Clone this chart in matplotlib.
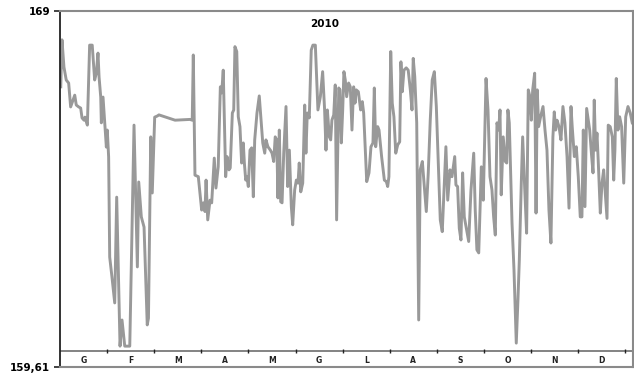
import matplotlib
matplotlib.use("Agg")
import matplotlib.pyplot as plt
import numpy as np

# giorno (asse a 31 giorni per mese) e livello
days = [0.5, 1.3, 2.6, 4.1, 5.7, 7.0, 8.6, 9.7, 10.7, 12.3, 13.6, 14.5, 15.8, 16.4, 18.0,
        19.5, 21.2, 22.8, 23.9, 25.0, 25.7, 26.8, 27.2, 28.3, 30.5, 31.1, 32.0, 32.7, 34.2,
        36.0, 37.3, 39.5, 40.8, 42.6, 45.9, 48.7, 50.9, 51.8, 53.5, 55.3, 57.4, 58.2, 59.7,
        60.7, 62.3, 64.0, 65.1, 75.7, 85.5, 87.0, 87.7, 88.8, 91.0, 93.2, 94.3, 95.4, 96.1,
        97.2, 98.7, 99.8, 101.5, 102.6, 104.1, 105.5, 106.4, 107.4, 109.0, 109.9, 111.2,
        112.0, 113.4, 114.3, 115.1, 116.3, 117.3, 118.4, 119.5, 120.6, 121.3, 122.2, 123.0,
        123.9, 125.0, 126.1, 127.2, 128.1, 129.6, 131.1, 132.4, 133.4, 134.7, 135.5, 136.8,
        138.4, 139.5, 140.6, 141.6, 142.6, 143.4, 144.3, 145.2, 146.1, 147.2, 148.7, 149.8,
        150.9, 152.2, 153.1, 154.4, 155.5, 156.6, 157.4, 158.4, 159.7, 161.0, 161.8, 162.7,
        164.0, 165.3, 166.4, 168.0, 169.7, 171.3, 172.8, 174.1, 175.0, 175.9, 177.2, 178.1,
        178.9, 180.1, 181.1, 182.0, 183.4, 184.2, 185.1, 186.0, 186.8, 187.7, 188.6, 189.9,
        191.0, 192.1, 193.2, 194.1, 194.9, 196.3, 197.8, 198.9, 199.8, 201.1, 201.8, 203.3,
        204.6, 205.9, 206.8, 207.7, 209.0, 209.9, 211.6, 213.4, 214.7, 215.6, 216.4, 217.6,
        218.6, 219.7, 220.9, 222.2, 223.5, 224.3, 225.2, 226.3, 227.8, 229.1, 230.5, 231.6,
        232.4, 233.4, 234.7, 236.0, 237.0, 238.4, 239.7, 241.0, 242.3, 243.6, 244.9, 246.3,
        247.6, 248.9, 250.2, 251.5, 252.8, 253.9, 255.1, 256.6, 257.9, 259.7, 260.5, 261.6,
        262.7, 263.8, 264.9, 266.0, 267.6, 268.9, 270.4, 272.2, 273.2, 274.3, 275.5, 277.2,
        278.5, 280.3, 281.6, 282.9, 284.2, 285.3, 286.4, 287.5, 288.6, 289.5, 290.3, 291.6,
        293.0, 293.9, 294.7, 295.6, 297.4, 298.7, 300.2, 301.3, 302.2, 303.5, 304.4, 305.7,
        307.0, 308.1, 309.2, 310.1, 311.0, 312.3, 313.2, 314.0, 314.9, 316.2, 317.8, 319.1,
        320.4, 321.7, 323.0, 324.3, 325.2, 326.1, 327.0, 328.3, 329.6, 330.9, 332.2, 333.6,
        334.9, 336.2, 337.0, 338.4, 339.7, 341.0, 342.3, 343.4, 344.3, 345.4, 346.5, 347.6,
        348.5, 349.8, 350.7, 351.5, 352.4, 353.3, 354.1, 355.5, 356.6, 357.7, 358.6, 359.9,
        360.7, 362.0, 363.4, 364.3, 365.1, 366.0, 367.1, 368.2, 369.5, 370.9, 372.2, 373.7,
        375.2, 376.5]
levels = [167.00, 168.24, 167.52, 167.18, 167.10, 166.47, 166.65, 166.78, 166.52, 166.47,
          166.44, 166.18, 166.12, 166.20, 165.99, 168.10, 168.10, 167.18, 167.36, 167.89,
          167.26, 166.73, 166.05, 166.73, 165.41, 165.86, 165.15, 162.51, 161.98, 161.30,
          164.09, 160.16, 160.85, 160.16, 160.16, 165.99, 162.25, 164.49, 163.57, 163.30,
          160.72, 160.90, 165.68, 164.20, 166.20, 166.23, 166.26, 166.12, 166.14, 166.12,
          167.84, 164.67, 164.63, 163.75, 163.94, 163.71, 164.54, 163.49, 164.01, 163.94,
          165.12, 164.33, 164.89, 167.00, 166.84, 167.44, 164.63, 165.16, 164.81, 164.86,
          166.31, 166.39, 168.06, 167.93, 166.21, 165.95, 164.99, 165.52, 164.99, 164.54,
          164.63, 164.37, 165.33, 165.39, 164.10, 165.60, 166.31, 166.76, 166.05, 165.52,
          165.25, 165.60, 165.42, 165.33, 165.25, 165.03, 165.68, 165.60, 164.07, 165.86,
          163.97, 163.94, 165.25, 166.48, 164.37, 165.33, 163.84, 163.36, 164.28, 164.54,
          164.46, 164.99, 164.23, 164.46, 166.52, 165.25, 166.31, 166.18, 167.97, 168.10,
          168.10, 166.39, 166.74, 167.40, 166.39, 165.33, 166.39, 165.68, 165.60, 166.12,
          166.26, 167.05, 163.49, 166.97, 166.92, 165.52, 166.39, 167.40, 167.18, 166.74,
          167.10, 167.00, 165.86, 167.00, 166.57, 166.92, 166.87, 166.39, 166.61, 166.31,
          165.16, 164.50, 164.73, 165.42, 165.52, 166.97, 165.42, 165.95, 165.86, 165.16,
          164.54, 164.50, 164.37, 164.63, 167.93, 166.57, 166.21, 165.25, 165.47, 165.55,
          167.66, 166.87, 167.44, 167.50, 167.44, 166.92, 166.39, 167.75, 167.27, 166.05,
          160.85, 164.81, 165.03, 164.37, 163.71, 164.73, 166.12, 167.18, 167.40, 166.48,
          164.99, 163.49, 163.18, 164.37, 165.42, 164.01, 164.81, 164.63, 165.16, 164.41,
          164.37, 163.27, 162.96, 164.73, 163.57, 163.22, 162.92, 164.28, 165.25, 163.75,
          162.70, 162.62, 164.89, 164.01, 167.22, 166.39, 164.63, 164.28, 163.57, 163.09,
          166.05, 165.86, 166.39, 164.15, 165.68, 165.03, 164.99, 166.39, 166.05, 163.41,
          162.17, 160.24, 161.38, 162.43, 164.46, 165.68, 164.37, 163.14, 166.92, 166.74,
          166.12, 166.92, 167.36, 163.67, 166.92, 165.95, 166.21, 166.48, 165.86, 165.33,
          163.75, 162.88, 165.68, 166.34, 165.86, 166.12, 165.95, 165.60, 166.48, 166.05,
          165.16, 163.80, 166.48, 165.95, 165.16, 165.42, 164.63, 163.57, 163.57, 165.86,
          163.84, 166.43, 166.12, 165.86, 165.16, 164.73, 166.65, 165.33, 165.78, 165.07,
          163.67, 164.46, 164.81, 164.28, 163.53, 165.99, 165.95, 165.68, 164.54, 165.33,
          167.22, 165.86, 166.21, 165.95, 164.46, 166.21, 166.48, 166.31, 166.05]

months = ["G", "F", "M", "A", "M", "G", "L", "A", "S", "O", "N", "D"]
y_min, y_max = 159.61, 169
axis_cross = 160.03
month_len = 31

fig = plt.figure(figsize=(6.34, 3.73), dpi=100)
ax = fig.add_axes([60/634, 6/373, 573/634, 356/373])

ax.plot(days, levels, color="#999999", lw=2.1, solid_joinstyle="round")

ax.set_xlim(0, 377)
ax.set_ylim(y_min, y_max)

# asse orizzontale interno con tacche mensili
ax.axhline(axis_cross, color="#6e6e6e", lw=1.2)
bounds = [month_len * k for k in range(1, 13)]
ax.vlines(bounds, axis_cross - 0.05, axis_cross + 0.05, color="#222222", lw=1.0)
for i, m in enumerate(months):
    ax.text(month_len * i + 15.5, 159.77, m, ha="center", va="center",
            fontsize=5.5, fontweight="bold", color="#222222")

ax.set_xticks([])
ax.set_yticks([y_min, y_max])
ax.set_yticklabels(["159,61", "169"], fontsize=7.5, fontweight="bold")
ax.tick_params(axis="y", length=4, width=1.2, color="#222222", pad=3)

for side in ["top", "right", "bottom"]:
    ax.spines[side].set_color("#8a8a8a")
    ax.spines[side].set_linewidth(1.5)
ax.spines["left"].set_color("#222222")
ax.spines["left"].set_linewidth(1.3)

ax.text((325 - 60) / 573, 0.963, "2010", transform=ax.transAxes, ha="center",
        va="center", fontsize=7.5, fontweight="bold")

fig.savefig("out.png", dpi=100)
